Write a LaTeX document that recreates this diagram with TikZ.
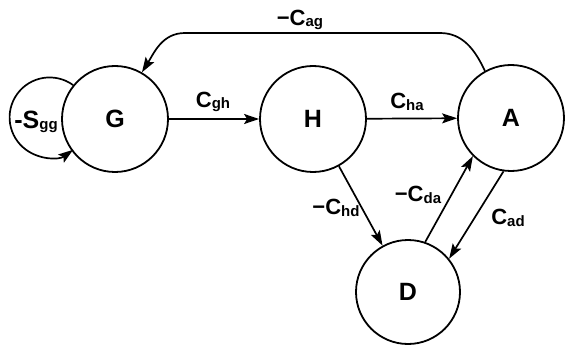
\documentclass[tikz,border=0pt]{standalone}
\usepackage{fontspec}
\setmainfont{Liberation Sans}
\usetikzlibrary{arrows.meta}
\newcommand{\rate}[2]{#1\raisebox{-1.5pt}{\fontsize{15}{15}\selectfont\bfseries #2}}

\begin{document}
\begin{tikzpicture}[
      x=1pt,y=1pt,
      state/.style={circle,draw,line width=1.8pt,minimum size=106pt,inner sep=0pt,font=\fontsize{25}{25}\selectfont\bfseries},
      arr/.style={-{Stealth[length=15pt,width=10pt,inset=3pt]},line width=1.7pt},
      lab/.style={font=\fontsize{22}{22}\selectfont\bfseries,inner sep=0pt}
    ]
    \useasboundingbox (0,0) rectangle (565,346);
    \node[state] (G) at (115,227) {G};
    \node[state] (H) at (313,227) {H};
    \node[state] (A) at (511,228) {A};
    \node[state,minimum size=104pt] (D) at (408,54) {D};
    % coordinates of the long feedback arc
    \coordinate (agR) at (440,313);
    \coordinate (agL) at (185,313);
    \draw[arr] (G) -- (H);
    \draw[arr] (H) -- (A);
    \draw[arr] (H) -- (D);
    \draw[arr] (D.71) -- (A.225);
    \draw[arr] (A.262) -- (D.39);
    \draw[arr] (A.119) to[out=115,in=0] (agR) -- (agL) to[out=180,in=58] (G.60);
    \draw[arr] (G.141) arc[start angle=54,end angle=306,radius=40];
    \node[lab] (lgh) at (213,244) {\rate{C}{gh}};
    \node[lab] (lha) at (407,244) {\rate{C}{ha}};
    \node[lab] (lhd) at (336,138) {\rate{−C}{hd}};
    \node[lab] (lda) at (418,151) {\rate{−C}{da}};
    \node[lab] (lad) at (508,128) {\rate{C}{ad}};
    \node[lab] (lag) at (300,326) {\rate{−C}{ag}};
    \node[lab,font=\fontsize{25}{25}\selectfont\bfseries] (lgg) at (36,224) {\rate{-S}{gg}};
  \end{tikzpicture}
\end{document}
